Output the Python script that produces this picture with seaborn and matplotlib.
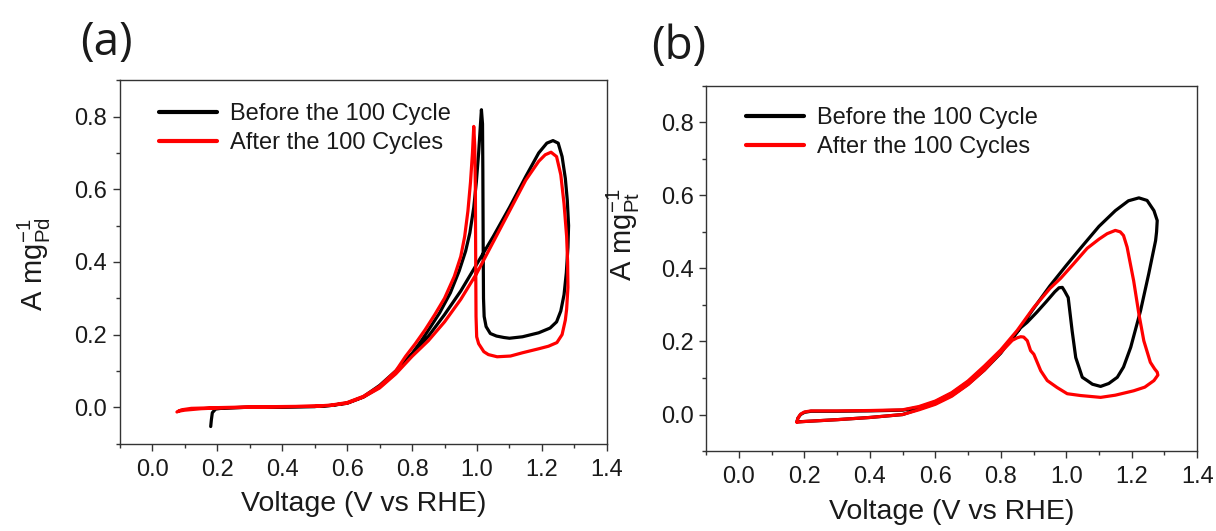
import matplotlib
matplotlib.use("Agg")
import matplotlib.pyplot as plt
import numpy as np
import pandas as pd
import seaborn as sns
from matplotlib.ticker import MultipleLocator

# ---------------- data ----------------
# Panel (a): Pd catalyst, current density A mg_Pd^-1 vs voltage
a_before_v = [0.180, 0.182, 0.185, 0.195, 0.22, 0.30, 0.40, 0.50, 0.55, 0.60, 0.65, 0.70, 0.75,
              0.80, 0.85, 0.90, 0.95, 1.00, 1.05, 1.10, 1.15, 1.19, 1.215, 1.234, 1.25, 1.262,
              1.272, 1.278, 1.282, 1.280, 1.275, 1.268, 1.258, 1.245, 1.225, 1.19, 1.14, 1.10,
              1.083, 1.06, 1.041, 1.028, 1.022, 1.020, 1.019, 1.018, 1.017, 1.0136, 1.010, 1.005,
              0.998, 0.990, 0.978, 0.965, 0.945, 0.918, 0.885, 0.856, 0.83, 0.80, 0.75, 0.70,
              0.65, 0.60, 0.55, 0.50, 0.40, 0.30, 0.20]
a_before_i = [-0.053, -0.035, -0.015, -0.005, -0.002, 0.000, 0.001, 0.002, 0.005, 0.011, 0.028,
              0.055, 0.095, 0.145, 0.195, 0.255, 0.320, 0.395, 0.470, 0.550, 0.635, 0.700, 0.727,
              0.734, 0.727, 0.690, 0.630, 0.570, 0.500, 0.440, 0.370, 0.310, 0.265, 0.235, 0.218,
              0.205, 0.194, 0.190, 0.192, 0.196, 0.203, 0.222, 0.250, 0.300, 0.450, 0.650, 0.780,
              0.819, 0.770, 0.700, 0.620, 0.550, 0.480, 0.430, 0.375, 0.315, 0.260, 0.220, 0.185,
              0.148, 0.100, 0.060, 0.029, 0.012, 0.005, 0.002, 0.001, 0.000, -0.002]

a_after_v = [0.076, 0.09, 0.12, 0.20, 0.30, 0.40, 0.50, 0.55, 0.60, 0.65, 0.70, 0.75, 0.80, 0.85,
             0.90, 0.95, 1.00, 1.05, 1.10, 1.15, 1.19, 1.21, 1.228, 1.245, 1.258, 1.268, 1.276,
             1.279, 1.280, 1.276, 1.272, 1.262, 1.246, 1.22, 1.19, 1.14, 1.103, 1.062, 1.035,
             1.021, 1.005, 0.999, 0.997, 0.996, 0.995, 0.993, 0.990, 0.986, 0.980, 0.972, 0.962,
             0.950, 0.930, 0.900, 0.870, 0.840, 0.810, 0.780, 0.75, 0.70, 0.65, 0.60, 0.55, 0.50,
             0.40, 0.30, 0.20, 0.15, 0.10, 0.08]
a_after_i = [-0.013, -0.007, -0.003, -0.001, 0.001, 0.002, 0.003, 0.005, 0.011, 0.028, 0.053,
             0.092, 0.140, 0.183, 0.235, 0.297, 0.370, 0.455, 0.540, 0.625, 0.677, 0.695, 0.702,
             0.690, 0.640, 0.560, 0.470, 0.400, 0.330, 0.270, 0.240, 0.200, 0.178, 0.168, 0.161,
             0.150, 0.141, 0.139, 0.145, 0.153, 0.175, 0.194, 0.250, 0.400, 0.600, 0.720, 0.773,
             0.700, 0.620, 0.540, 0.470, 0.415, 0.360, 0.300, 0.255, 0.213, 0.175, 0.140, 0.100,
             0.058, 0.030, 0.013, 0.006, 0.003, 0.001, 0.000, -0.002, -0.004, -0.008, -0.011]

# Panel (b): Pt catalyst, current density A mg_Pt^-1 vs voltage
b_before_v = [0.177, 0.180, 0.188, 0.20, 0.22, 0.30, 0.40, 0.50, 0.55, 0.60, 0.65, 0.70, 0.75,
              0.80, 0.85, 0.90, 0.95, 1.00, 1.05, 1.10, 1.15, 1.19, 1.222, 1.247, 1.268, 1.278,
              1.276, 1.273, 1.252, 1.227, 1.197, 1.175, 1.156, 1.13, 1.105, 1.08, 1.064, 1.049,
              1.029, 1.018, 1.006, 0.995, 0.988, 0.978, 0.965, 0.94, 0.91, 0.88, 0.86, 0.83, 0.80,
              0.75, 0.70, 0.65, 0.60, 0.55, 0.50, 0.40, 0.30, 0.20, 0.177]
b_before_i = [-0.020, -0.010, 0.000, 0.006, 0.009, 0.009, 0.010, 0.012, 0.020, 0.035, 0.058,
              0.090, 0.130, 0.172, 0.225, 0.290, 0.352, 0.408, 0.462, 0.515, 0.558, 0.585, 0.593,
              0.586, 0.558, 0.531, 0.500, 0.476, 0.385, 0.284, 0.184, 0.130, 0.102, 0.085, 0.077,
              0.083, 0.093, 0.102, 0.156, 0.229, 0.320, 0.338, 0.348, 0.347, 0.336, 0.310, 0.280,
              0.252, 0.237, 0.205, 0.168, 0.122, 0.083, 0.052, 0.030, 0.015, 0.000, -0.008,
              -0.014, -0.019, -0.020]

b_after_v = [0.177, 0.180, 0.188, 0.20, 0.22, 0.30, 0.40, 0.50, 0.55, 0.60, 0.65, 0.70, 0.75,
             0.80, 0.85, 0.90, 0.95, 0.983, 1.02, 1.064, 1.10, 1.125, 1.150, 1.165, 1.175, 1.186,
             1.206, 1.222, 1.237, 1.257, 1.270, 1.278, 1.280, 1.268, 1.24, 1.206, 1.15, 1.105,
             1.044, 1.003, 0.972, 0.942, 0.922, 0.901, 0.891, 0.881, 0.870, 0.861, 0.850, 0.835,
             0.80, 0.75, 0.70, 0.65, 0.60, 0.55, 0.50, 0.40, 0.30, 0.20, 0.177]
b_after_i = [-0.021, -0.010, 0.001, 0.007, 0.010, 0.010, 0.011, 0.013, 0.022, 0.037, 0.060,
             0.092, 0.133, 0.177, 0.230, 0.292, 0.345, 0.373, 0.410, 0.455, 0.480, 0.495, 0.504,
             0.500, 0.490, 0.458, 0.366, 0.275, 0.202, 0.143, 0.125, 0.116, 0.108, 0.093, 0.075,
             0.065, 0.053, 0.047, 0.052, 0.057, 0.074, 0.093, 0.120, 0.165, 0.175, 0.202, 0.212,
             0.213, 0.210, 0.203, 0.170, 0.122, 0.082, 0.050, 0.028, 0.013, 0.000, -0.008,
             -0.014, -0.019, -0.021]

series_labels = ["Before the 100 Cycle", "After the 100 Cycles"]
series_colors = ["#000000", "#ff0000"]
x_ticks = [0.0, 0.2, 0.4, 0.6, 0.8, 1.0, 1.2, 1.4]
y_ticks = [0.0, 0.2, 0.4, 0.6, 0.8]
panel_tags = ["(a)", "(b)"]
y_labels = ["A mg$_{Pd}^{-1}$", "A mg$_{Pt}^{-1}$"]
x_label = "Voltage (V vs RHE)"

# ---------------- style ----------------
sns.set_style("ticks")
plt.rcParams["font.family"] = ["Liberation Sans", "DejaVu Sans"]
plt.rcParams["mathtext.fontset"] = "custom"
plt.rcParams["mathtext.rm"] = "Liberation Sans"
plt.rcParams["mathtext.it"] = "Liberation Sans"
plt.rcParams["mathtext.bf"] = "Liberation Sans:bold"
plt.rcParams["mathtext.default"] = "regular"

fig = plt.figure(figsize=(12.16, 5.31), dpi=100)
ax_a = fig.add_axes([0.0985, 0.1646, 0.4006, 0.6842])
ax_b = fig.add_axes([0.5808, 0.1505, 0.4037, 0.6881])


def make_frame(before_v, before_i, after_v, after_i):
    frames = []
    for lab, v, i in [(series_labels[0], before_v, before_i), (series_labels[1], after_v, after_i)]:
        frames.append(pd.DataFrame({"V": v, "I": i, "series": lab, "order": np.arange(len(v))}))
    return pd.concat(frames, ignore_index=True)


panels = [
    (ax_a, make_frame(a_before_v, a_before_i, a_after_v, a_after_i)),
    (ax_b, make_frame(b_before_v, b_before_i, b_after_v, b_after_i)),
]

legend_anchor = [(0.0815, 0.937), (0.081, 0.941)]
ylabel_coords = [(-0.138, 0.494), (-0.131, 0.591)]
xlabel_coords = [(0.5, -0.130), (0.5, -0.131)]

for k, (ax, df) in enumerate(panels):
    sns.lineplot(data=df, x="V", y="I", hue="series", hue_order=series_labels,
                 palette=series_colors, sort=False, estimator=None, lw=2.3, ax=ax)
    ax.set_xlim(-0.1, 1.4)
    ax.set_ylim(-0.1, 0.9)
    ax.set_xticks(x_ticks)
    ax.set_yticks(y_ticks)
    ax.xaxis.set_minor_locator(MultipleLocator(0.1))
    ax.yaxis.set_minor_locator(MultipleLocator(0.1))
    ax.set_xticklabels([f"{t:.1f}" for t in x_ticks])
    ax.set_yticklabels([f"{t:.1f}" for t in y_ticks])
    ax.tick_params(axis="both", which="major", direction="out", length=5, width=1.0,
                   color="#333333", labelsize=17, labelcolor="#1a1a1a")
    ax.tick_params(axis="both", which="minor", direction="out", length=3, width=1.0,
                   color="#333333")
    ax.tick_params(axis="x", which="major", pad=6)
    ax.tick_params(axis="y", which="major", pad=4)
    for sp in ax.spines.values():
        sp.set_visible(True)
        sp.set_color("#333333")
        sp.set_linewidth(1.0)
    ax.set_xlabel(x_label, fontsize=20.5, color="#1a1a1a")
    ax.set_ylabel(y_labels[k], fontsize=21, color="#1a1a1a")
    ax.xaxis.set_label_coords(*xlabel_coords[k])
    ax.yaxis.set_label_coords(*ylabel_coords[k])

    handles, labels = ax.get_legend_handles_labels()
    leg = ax.legend(handles, labels, loc="upper left", bbox_to_anchor=legend_anchor[k],
                    frameon=False, fontsize=17, handlelength=2.45, handletextpad=0.55,
                    labelspacing=0.29, borderpad=0, borderaxespad=0)
    for ln in leg.get_lines():
        ln.set_linewidth(3.0)
    for t in leg.get_texts():
        t.set_color("#1a1a1a")

fig.text(106 / 1216, 1 - 43 / 531, panel_tags[0], fontsize=33, family="Open Sans",
         ha="center", va="center", color="#1a1a1a")
fig.text(679 / 1216, 1 - 47 / 531, panel_tags[1], fontsize=33, family="Open Sans",
         ha="center", va="center", color="#1a1a1a")

fig.savefig("out.png", dpi=100)
